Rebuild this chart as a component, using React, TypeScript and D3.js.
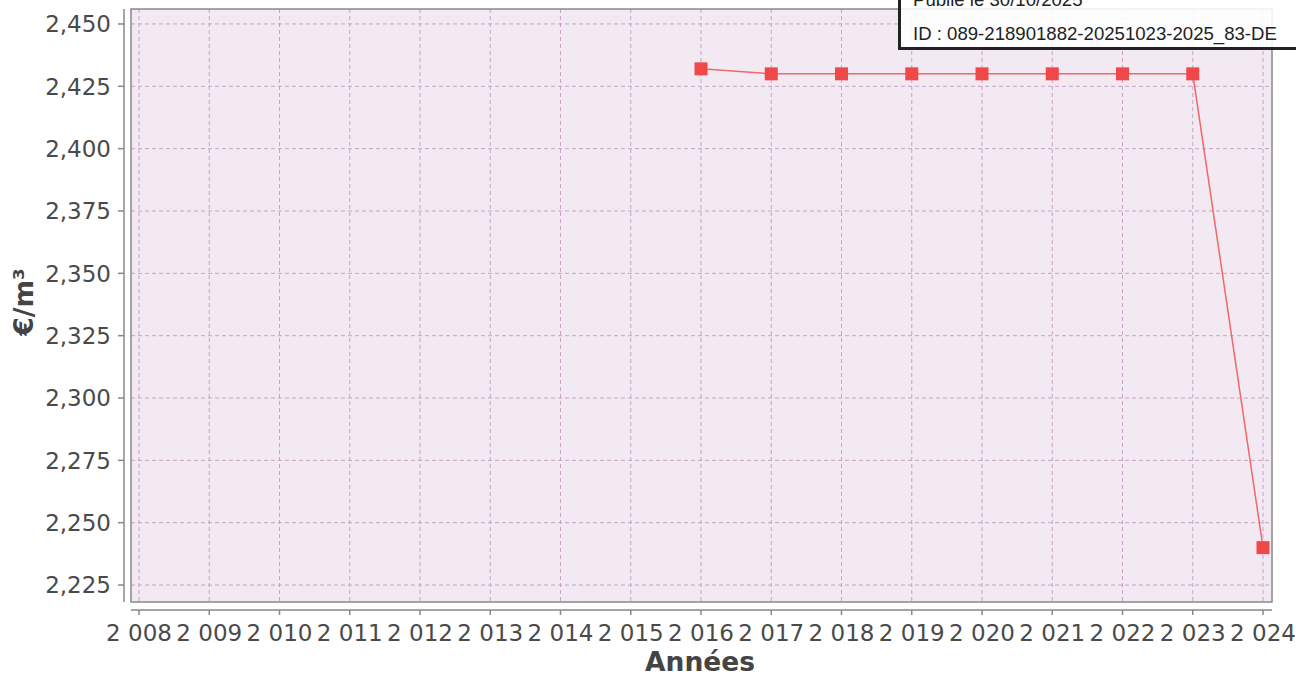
import React from 'react';
import * as d3 from 'd3';

// data
const years = [2016, 2017, 2018, 2019, 2020, 2021, 2022, 2023, 2024];
const prices = [2.432, 2.43, 2.43, 2.43, 2.43, 2.43, 2.43, 2.43, 2.24];
const xTicks = [2008, 2009, 2010, 2011, 2012, 2013, 2014, 2015, 2016, 2017, 2018, 2019, 2020, 2021, 2022, 2023, 2024];
const yTicks = [2.225, 2.25, 2.275, 2.3, 2.325, 2.35, 2.375, 2.4, 2.425, 2.45];
const stampLines = ['Publié le 30/10/2025', 'ID : 089-218901882-20251023-2025_83-DE'];

const W = 1296;
const H = 677;
const plot = { left: 131, right: 1272, top: 9, bottom: 602 };

const fr = d3.formatLocale({ decimal: ',', thousands: ' ', grouping: [3], currency: ['', ' €'] });
const fmtYear = fr.format(',d');
const fmtPrice = fr.format('.3f');

export default function App() {
    const x = d3.scaleLinear().domain([2007.886, 2024.128]).range([plot.left, plot.right]);
    const y = d3.scaleLinear().domain([2.2182, 2.456]).range([plot.bottom, plot.top]);
    const line = d3.line<number>().x((d, i) => x(years[i])).y(d => y(d));
    const tickFont = { fontFamily: 'DejaVu Sans', fontSize: 23, fill: '#4a4a4a' };

    return (
        <svg width={W} height={H} style={{ position: 'absolute', left: 0, top: 0, background: '#fff' }}>
            <rect x={plot.left} y={plot.top} width={plot.right - plot.left} height={plot.bottom - plot.top} fill="#f3e9f3" />
            {/* grid */}
            <g stroke="#c7a3c7" strokeWidth={1} strokeDasharray="4,3">
                {xTicks.map(t => <line key={t} x1={x(t)} x2={x(t)} y1={plot.top} y2={plot.bottom} />)}
                {yTicks.map(t => <line key={t} x1={plot.left} x2={plot.right} y1={y(t)} y2={y(t)} />)}
            </g>
            <rect x={plot.left} y={plot.top} width={plot.right - plot.left} height={plot.bottom - plot.top} fill="none" stroke="#888" strokeWidth={1.5} />

            {/* y axis */}
            <line x1={124} x2={124} y1={plot.top} y2={plot.bottom} stroke="#888" strokeWidth={1.5} />
            {yTicks.map(t => (
                <g key={t}>
                    <line x1={118} x2={124} y1={y(t)} y2={y(t)} stroke="#888" strokeWidth={1.5} />
                    <text x={111} y={y(t)} dy="0.36em" textAnchor="end" {...tickFont}>{fmtPrice(t)}</text>
                </g>
            ))}
            <text transform="translate(33,302) rotate(-90)" textAnchor="middle" fontFamily="DejaVu Sans" fontWeight="bold" fontSize={26.5} fill="#444">€/m³</text>

            {/* x axis */}
            <line x1={plot.left} x2={plot.right} y1={610} y2={610} stroke="#888" strokeWidth={1.5} />
            {xTicks.map(t => (
                <g key={t}>
                    <line x1={x(t)} x2={x(t)} y1={610} y2={615} stroke="#888" strokeWidth={1.5} />
                    <text x={x(t)} y={641} textAnchor="middle" {...tickFont}>{fmtYear(t)}</text>
                </g>
            ))}
            <text x={700} y={671} textAnchor="middle" fontFamily="DejaVu Sans" fontWeight="bold" fontSize={26.5} fill="#444">Années</text>

            {/* series */}
            <path d={line(prices) || ''} fill="none" stroke="#f06868" strokeWidth={1.5} />
            {prices.map((p, i) => (
                <rect key={i} x={x(years[i]) - 6.5} y={y(p) - 6.5} width={13} height={13} fill="#f04848" />
            ))}

            {/* stamp, cut at the top edge as in the source */}
            <rect x={899.5} y={-10} width={420} height={58.5} fill="#fff" fillOpacity={0.88} stroke="#222" strokeWidth={3} />
            <text x={913} y={6} fontFamily="Liberation Sans" fontSize={18.6} fill="#222">{stampLines[0]}</text>
            <text x={913} y={40} fontFamily="Liberation Sans" fontSize={18.6} fill="#222">{stampLines[1]}</text>
        </svg>
    );
}
